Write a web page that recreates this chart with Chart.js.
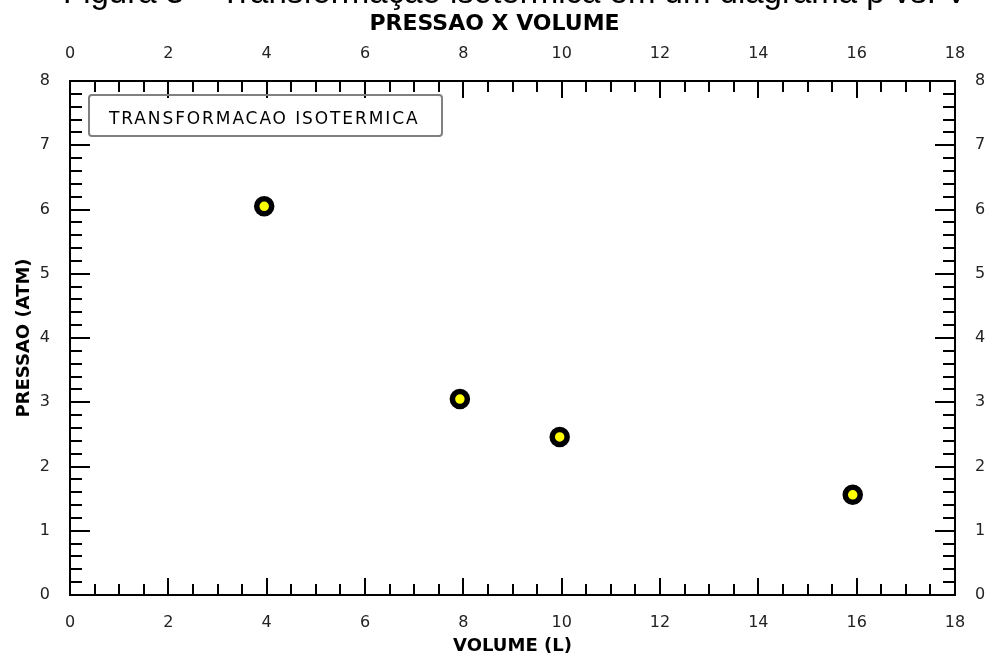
<!DOCTYPE html>
<html><head><meta charset="utf-8">
<script src="https://cdn.jsdelivr.net/npm/chart.js@4/dist/chart.umd.min.js"></script>
<style>
html,body{margin:0;padding:0;background:#fff;overflow:hidden}
#wrap{position:relative;width:989px;height:655px}
#cap{position:absolute;left:63px;top:-25px;font:33px/33px "Liberation Sans",Arial,sans-serif;color:#000;white-space:nowrap;z-index:2}
canvas{position:absolute;left:0;top:0}
</style></head><body>
<div id="wrap"><canvas id="c" width="989" height="655"></canvas><div id="cap"></div></div>
<script>
const caption = "Figura 3 – Transformação isotérmica em um diagrama p vs. V";
const chartTitle = "PRESSAO X VOLUME";
const seriesLabel = "TRANSFORMACAO ISOTERMICA";
const xTitle = "VOLUME (L)";
const yTitle = "PRESSAO (ATM)";
const volumes = [3.95, 7.93, 9.96, 15.92];
const pressures = [6.05, 3.05, 2.46, 1.56];
const xTicks = [0, 2, 4, 6, 8, 10, 12, 14, 16, 18];
const yTicks = [0, 1, 2, 3, 4, 5, 6, 7, 8];

document.getElementById('cap').textContent = caption;

const tickFont = {family: '"DejaVu Sans", sans-serif', size: 16};
const titleFont = {family: '"DejaVu Sans", sans-serif', size: 18, weight: 'bold', lineHeight: 1};
const tickColor = '#222';

function setTicks(list) { return s => { s.ticks = list.map(v => ({value: v})); }; }

function axis(pos, list, min, max, size, extra) {
  const horiz = pos === 'top' || pos === 'bottom';
  return Object.assign({
    type: 'linear', position: pos, min: min, max: max,
    afterBuildTicks: setTicks(list),
    ticks: {padding: horiz ? 18 : 20, font: tickFont, color: tickColor, maxRotation: 0, autoSkip: false},
    grid: {display: false, drawTicks: false},
    border: {display: true, color: '#000', width: 2},
    afterFit: s => { if (horiz) s.height = size; else s.width = size; }
  }, extra || {});
}

const tickMarks = {
  id: 'tickMarks',
  afterDraw(chart) {
    const ctx = chart.ctx, a = chart.chartArea;
    const xs = chart.scales.x, ys = chart.scales.y;
    ctx.save();
    ctx.strokeStyle = '#000';
    ctx.lineWidth = 2;
    const seg = (x1, y1, x2, y2) => { ctx.beginPath(); ctx.moveTo(x1, y1); ctx.lineTo(x2, y2); ctx.stroke(); };
    for (let i = 1; i < 36; i++) {
      const v = i * 0.5;
      const px = Math.round(xs.getPixelForValue(v));
      const len = (i % 4 === 0) ? 17 : 11;
      seg(px, a.bottom, px, a.bottom - len);
      seg(px, a.top, px, a.top + len);
    }
    for (let i = 1; i < 40; i++) {
      const v = i * 0.2;
      const py = Math.round(ys.getPixelForValue(v));
      const len = (i % 5 === 0) ? 20 : 12;
      seg(a.left, py, a.left + len, py);
      seg(a.right, py, a.right - len, py);
    }
    ctx.restore();
  }
};

const legendBox = {
  id: 'legendBox',
  afterDraw(chart) {
    const ctx = chart.ctx, a = chart.chartArea;
    const bx = a.left + 19, by = a.top + 14, bw = 353, bh = 41;
    ctx.save();
    ctx.strokeStyle = '#808080';
    ctx.lineWidth = 2;
    ctx.beginPath();
    ctx.roundRect(bx, by, bw, bh, 3);
    ctx.stroke();
    ctx.fillStyle = '#000';
    ctx.font = '17px "DejaVu Sans", sans-serif';
    ctx.letterSpacing = '1.9px';
    ctx.textAlign = 'left';
    ctx.textBaseline = 'alphabetic';
    ctx.fillText(chart.data.datasets[0].label, bx + 20, by + 28.5);
    ctx.restore();
  }
};

new Chart(document.getElementById('c'), {
  type: 'scatter',
  data: {
    datasets: [{
      label: seriesLabel,
      data: volumes.map((v, i) => ({x: v, y: pressures[i]})),
      xAxisID: 'x', yAxisID: 'y',
      pointRadius: 7.5, pointHoverRadius: 7.5,
      pointBackgroundColor: '#ffff00',
      pointBorderColor: '#000',
      pointBorderWidth: 5.5,
      showLine: false
    }]
  },
  options: {
    responsive: false,
    devicePixelRatio: 1,
    animation: false,
    events: [],
    layout: {padding: 0},
    plugins: {
      legend: {display: false},
      tooltip: {enabled: false},
      title: {
        display: true, text: chartTitle, color: '#000',
        font: {family: '"DejaVu Sans", sans-serif', size: 22, weight: 'bold', lineHeight: 1},
        padding: {top: 13, bottom: 0}
      }
    },
    scales: {
      x: axis('bottom', xTicks, 0, 18, 60, {
        title: {display: true, text: xTitle, color: '#000', font: titleFont, padding: {top: 0, bottom: 0}}
      }),
      x2: axis('top', xTicks, 0, 18, 46),
      y: axis('left', yTicks, 0, 8, 70, {
        title: {display: true, text: yTitle, color: '#000', font: titleFont, padding: {top: 15, bottom: 0}}
      }),
      y2: axis('right', yTicks, 0, 8, 34)
    }
  },
  plugins: [tickMarks, legendBox]
});
</script>
</body></html>
